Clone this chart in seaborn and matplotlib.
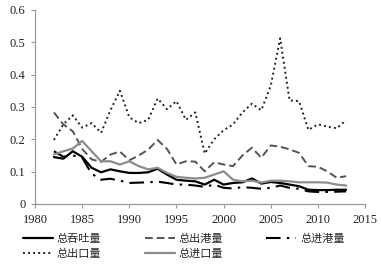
import numpy as np
import pandas as pd
import matplotlib
matplotlib.use("Agg")
import matplotlib.pyplot as plt
import seaborn as sns

years = list(range(1982, 2014))

throughput = [0.145, 0.140, 0.163, 0.146, 0.112, 0.098, 0.107, 0.101, 0.096, 0.096,
              0.098, 0.109, 0.091, 0.075, 0.072, 0.070, 0.060, 0.075, 0.060, 0.065,
              0.067, 0.079, 0.063, 0.068, 0.065, 0.060, 0.055, 0.044, 0.043, 0.043,
              0.044, 0.044]
outbound = [0.283, 0.246, 0.225, 0.170, 0.138, 0.130, 0.153, 0.162, 0.135, 0.150,
            0.168, 0.198, 0.170, 0.122, 0.132, 0.131, 0.101, 0.129, 0.122, 0.117,
            0.150, 0.174, 0.143, 0.181, 0.177, 0.169, 0.158, 0.117, 0.115, 0.101,
            0.081, 0.086]
inbound = [0.163, 0.146, 0.150, 0.143, 0.094, 0.075, 0.078, 0.072, 0.065, 0.066,
           0.067, 0.069, 0.065, 0.060, 0.060, 0.057, 0.053, 0.060, 0.050, 0.048,
           0.052, 0.050, 0.047, 0.050, 0.057, 0.050, 0.047, 0.039, 0.037, 0.037,
           0.038, 0.039]
export = [0.198, 0.246, 0.274, 0.236, 0.250, 0.220, 0.290, 0.350, 0.268, 0.250,
          0.260, 0.326, 0.293, 0.318, 0.260, 0.283, 0.156, 0.200, 0.228, 0.246,
          0.283, 0.310, 0.290, 0.365, 0.512, 0.320, 0.318, 0.229, 0.246, 0.239,
          0.234, 0.259]
imports = [0.153, 0.163, 0.171, 0.195, 0.163, 0.132, 0.132, 0.122, 0.132, 0.117,
           0.107, 0.112, 0.096, 0.084, 0.081, 0.079, 0.081, 0.091, 0.101, 0.075,
           0.070, 0.072, 0.066, 0.072, 0.072, 0.070, 0.067, 0.067, 0.067, 0.066,
           0.060, 0.057]

labels = ["总吞吐量", "总出港量", "总进港量", "总出口量", "总进口量"]

df = pd.DataFrame({"year": years, "总吞吐量": throughput, "总出港量": outbound,
                   "总进港量": inbound, "总出口量": export, "总进口量": imports})

sns.set_style("white")
plt.rcParams["font.family"] = "Liberation Serif"

fig = plt.figure(figsize=(3.81, 2.67), dpi=100)
ax = fig.add_axes([0.092, 0.236, 0.866, 0.727])

styles = {
    "总吞吐量": dict(color="black", linestyle="-", linewidth=1.6),
    "总出港量": dict(color="#555555", linestyle=(0, (4, 2)), linewidth=1.4),
    "总进港量": dict(color="black", linestyle=(0, (7, 3, 1.2, 3)), linewidth=1.5),
    "总出口量": dict(color="#222222", linestyle=(0, (1, 1.6)), linewidth=1.4),
    "总进口量": dict(color="#8c8c8c", linestyle="-", linewidth=1.6),
}

handles = {}
for name in labels:
    sns.lineplot(data=df, x="year", y=name, ax=ax, label=name, **styles[name])
    handles[name] = ax.get_lines()[-1]

ax.set_xlim(1980, 2015)
ax.set_ylim(0, 0.6)
ax.set_xticks(range(1980, 2016, 5))
ax.set_yticks([0, 0.1, 0.2, 0.3, 0.4, 0.5, 0.6])
ax.set_yticklabels(["0", "0.1", "0.2", "0.3", "0.4", "0.5", "0.6"])
ax.set_xlabel("")
ax.set_ylabel("")
for s in ["top", "right"]:
    ax.spines[s].set_visible(False)
for s in ["left", "bottom"]:
    ax.spines[s].set_color("#999999")
    ax.spines[s].set_linewidth(0.9)
ax.tick_params(axis="both", which="both", direction="out", length=3,
               color="#999999", labelsize=9, labelcolor="#222222", pad=4)
ax.tick_params(axis="both", left=True, bottom=True)
for t in ax.get_xticklabels() + ax.get_yticklabels():
    t.set_fontfamily("Liberation Serif")

order = ["总吞吐量", "总出口量", "总出港量", "总进口量", "总进港量"]
ax.legend([handles[n] for n in order], order, loc="upper left",
          bbox_to_anchor=(-0.05, -0.13), ncol=3, frameon=False,
          prop={"family": ["Noto Sans CJK SC", "DejaVu Sans"], "size": 8},
          handlelength=2.7, handletextpad=0.35, columnspacing=3.9,
          labelspacing=0.45, borderaxespad=0)

fig.savefig("out.png", dpi=100)
